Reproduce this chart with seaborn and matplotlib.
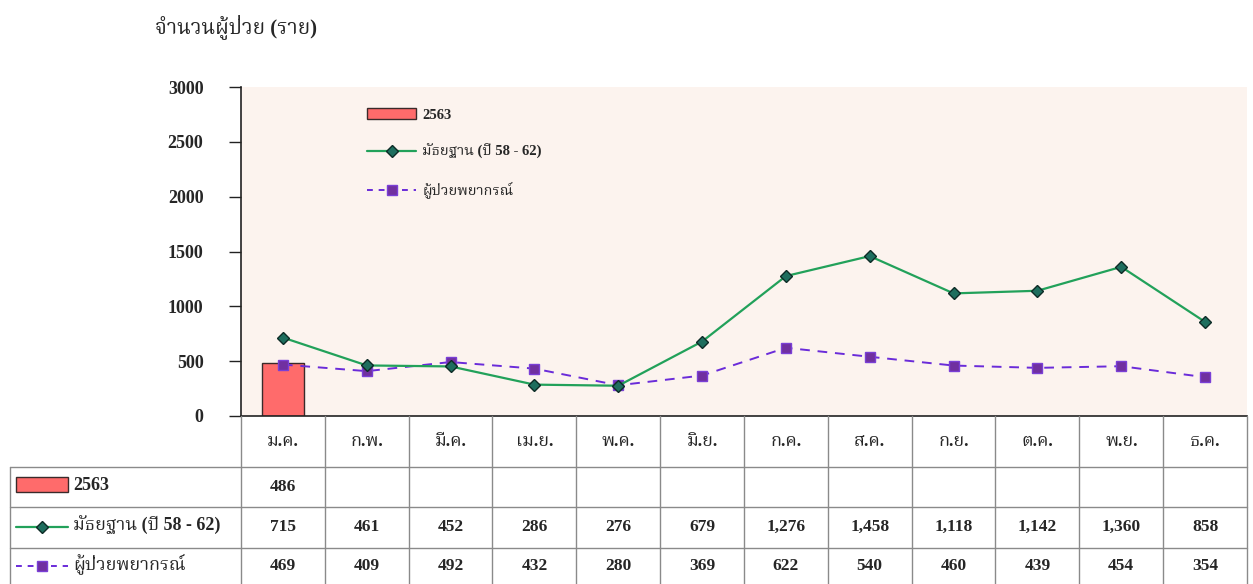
import numpy as np
import pandas as pd
import matplotlib
matplotlib.use("Agg")
import matplotlib.pyplot as plt
import seaborn as sns
from matplotlib.lines import Line2D
from matplotlib.patches import Patch
from matplotlib import font_manager as fm

months = ["ม.ค.", "ก.พ.", "มี.ค.", "เม.ย.", "พ.ค.", "มิ.ย.", "ก.ค.", "ส.ค.", "ก.ย.", "ต.ค.", "พ.ย.", "ธ.ค."]
cases_2563 = [486, None, None, None, None, None, None, None, None, None, None, None]
median_58_62 = [715, 461, 452, 286, 276, 679, 1276, 1458, 1118, 1142, 1360, 858]
forecast = [469, 409, 492, 432, 280, 369, 622, 540, 460, 439, 454, 354]
series_names = ["2563", "มัธยฐาน (ปี 58 - 62)", "ผู้ป่วยพยากรณ์"]
yticks = [0, 500, 1000, 1500, 2000, 2500, 3000]
title = "จำนวนผู้ป่วย (ราย)"

sns.set_theme(style="white")
names = {f.name for f in fm.fontManager.ttflist}
fams = [f for f in ["Noto Serif Thai", "Noto Sans Thai", "Loma", "Garuda", "Norasi", "Kinnari", "Tlwg Typo"] if f in names]
serif = ["Liberation Serif"] + fams + ["DejaVu Sans"]
plt.rcParams["font.family"] = serif

W, H = 1253, 584
fig = plt.figure(figsize=(W / 100, H / 100), dpi=100)
ax_l, ax_r, ax_t, ax_b = 241, 1247, 87, 416
ax = fig.add_axes([ax_l / W, 1 - ax_b / H, (ax_r - ax_l) / W, (ax_b - ax_t) / H])
ax.set_facecolor("#FCF3EE")

bar_color = "#FF6B6B"
green = "#22A15A"
purple = "#6A2BD9"

n = len(months)
pos = np.arange(n)
df_bar = pd.DataFrame({"month": months, "value": cases_2563}).dropna()
sns.barplot(data=df_bar, x="month", y="value", order=months, color=bar_color,
            saturation=1, width=0.5, edgecolor="#3a2a2a", linewidth=1.0, ax=ax)

df = pd.DataFrame({"pos": pos, "median": median_58_62, "forecast": forecast})
sns.lineplot(data=df, x="pos", y="forecast", ax=ax, color=purple, linestyle=(0, (5, 4)),
             linewidth=1.4, marker="s", markersize=7, markerfacecolor="#7030A0",
             markeredgecolor="#7a3fd6", markeredgewidth=1)
sns.lineplot(data=df, x="pos", y="median", ax=ax, color=green, linewidth=1.6,
             marker="D", markersize=6, markerfacecolor="#1E6E5E",
             markeredgecolor="#0d2b26", markeredgewidth=1)

ax.set_xlim(-0.5, n - 0.5)
ax.set_ylim(0, 3000)
ax.set_yticks(yticks)
ax.set_yticklabels([str(v) for v in yticks], fontweight="bold", fontsize=13)
ax.set_xticks([])
ax.set_xlabel("")
ax.set_ylabel("")
for s in ["top", "right"]:
    ax.spines[s].set_visible(False)
ax.spines["left"].set_color("#222222")
ax.spines["bottom"].set_color("#222222")
ax.spines["left"].set_linewidth(1.2)
ax.spines["bottom"].set_linewidth(1.2)
ax.tick_params(axis="y", direction="out", length=9, width=1, color="#222222", pad=18, left=True)

handles = [
    Patch(facecolor=bar_color, edgecolor="#3a2a2a", linewidth=1),
    Line2D([], [], color=green, linewidth=1.6, marker="D", markersize=6,
           markerfacecolor="#1E6E5E", markeredgecolor="#0d2b26"),
    Line2D([], [], color=purple, linewidth=1.4, linestyle=(0, (3, 3)), marker="s", markersize=7,
           markerfacecolor="#7030A0", markeredgecolor="#7a3fd6"),
]
ax.legend(handles, series_names, loc="upper left", bbox_to_anchor=(0.112, 0.975), frameon=False,
          prop={"weight": "bold", "size": 10.5, "family": serif}, labelspacing=1.55, handlelength=3.4,
          handletextpad=0.4)

fig.text(155 / W, 1 - 27 / H, title, fontsize=15, fontweight="bold", va="center", ha="left")

# table below the plot
tab = fig.add_axes([ax_l / W, 0, (ax_r - ax_l) / W, (H - ax_b) / H])
tab.set_xlim(-0.5, n - 0.5)
tab.set_ylim(H, ax_b)
tab.axis("off")
colw = (ax_r - ax_l) / n
left_x = -0.5 - (ax_l - 10) / colw
grid = "#8a8a8a"
row_lines = [467, 507, 548]
for y in row_lines:
    tab.plot([left_x, n - 0.5], [y, y], color=grid, lw=1, clip_on=False)
for i in range(n + 1):
    tab.plot([i - 0.5, i - 0.5], [ax_b, H], color=grid, lw=1, clip_on=False)
tab.plot([left_x, left_x], [467, H], color=grid, lw=1, clip_on=False)

for i, m in enumerate(months):
    tab.text(i, 441, m, ha="center", va="center", fontsize=13, fontweight="bold")
rows_y = [487, 527, 566]
data_rows = [cases_2563, median_58_62, forecast]
for ry, row in zip(rows_y, data_rows):
    for i, v in enumerate(row):
        if v is None:
            continue
        tab.text(i, ry, f"{v:,}", ha="center", va="center", fontsize=12.5, fontweight="bold")

# legend keys in table label column
lab_x = left_x + 0.07
tab.add_patch(plt.Rectangle((lab_x, 477), 0.62, 15, facecolor=bar_color, edgecolor="#3a2a2a",
                            lw=1, clip_on=False))
tab.plot([lab_x, lab_x + 0.62], [527, 527], color=green, lw=1.6, clip_on=False)
tab.plot([lab_x + 0.31], [527], marker="D", markersize=6, color="#1E6E5E", mec="#0d2b26", clip_on=False)
tab.plot([lab_x, lab_x + 0.62], [566, 566], color=purple, lw=1.4, ls=(0, (3, 3)), clip_on=False)
tab.plot([lab_x + 0.31], [566], marker="s", markersize=7, color="#7030A0", mec="#7a3fd6", clip_on=False)
for ry, name in zip(rows_y, series_names):
    tab.text(lab_x + 0.68, ry - 2, name, ha="left", va="center", fontsize=13, fontweight="bold")

fig.savefig("out.png", dpi=100)
